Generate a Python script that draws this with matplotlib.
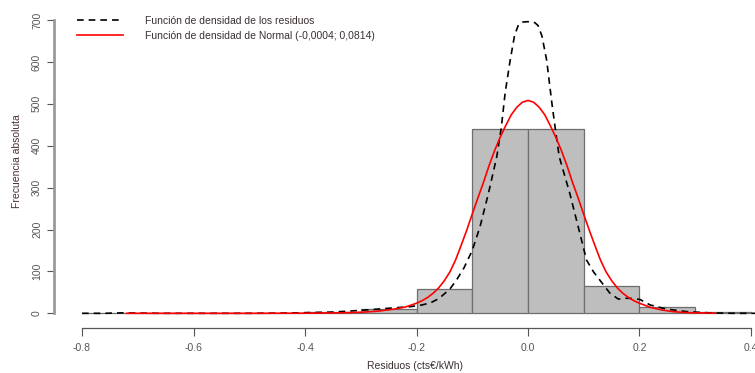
"""Histograma de residuos con densidad kernel y normal ajustada."""

import matplotlib
matplotlib.use("Agg")
import matplotlib.pyplot as plt

plt.rcParams['font.family'] = ['Liberation Sans', 'DejaVu Sans']

# histogram (bin edges every 0.1)
bin_edges = [-0.8, -0.7, -0.6, -0.5, -0.4, -0.3, -0.2, -0.1, 0.0, 0.1, 0.2, 0.3, 0.4]
counts = [1, 0, 0, 1, 2, 11, 57, 441, 441, 65, 14, 2]

# kernel density of the residuals (scaled to counts)
kde_x = [-0.80, -0.76, -0.73, -0.70, -0.66, -0.50, -0.44, -0.40, -0.35, -0.30,
         -0.27, -0.24, -0.21, -0.19, -0.175, -0.16, -0.14, -0.128, -0.115,
         -0.10, -0.086, -0.071, -0.056, -0.048, -0.041, -0.032, -0.024,
         -0.017, -0.010, -0.003, 0.005, 0.012, 0.018, 0.025, 0.0335, 0.043,
         0.049, 0.056, 0.075, 0.093, 0.105, 0.118, 0.129, 0.147, 0.162,
         0.177, 0.190, 0.201, 0.219, 0.231, 0.249, 0.285, 0.327, 0.37, 0.41]
kde_y = [0, 0, 1, 0.5, 0, 0, 0.5, 1.5, 3, 7,
         10, 13, 16, 20, 25, 35, 58, 80, 108,
         150, 207, 286, 374, 442, 526, 604, 664,
         689, 695, 696, 696, 694, 687, 662, 604, 500,
         440, 374, 286, 191, 127, 98, 79, 48, 34,
         36, 35, 33, 20, 16, 10, 4, 1, 0, 0]

# Normal(-0.0004; 0.0814) density scaled to counts
norm_x = [-0.72, -0.50, -0.40, -0.34, -0.30, -0.27, -0.24, -0.22, -0.20, -0.19,
          -0.18, -0.17, -0.16, -0.15, -0.14, -0.13, -0.12, -0.11, -0.10, -0.09,
          -0.08, -0.07, -0.06, -0.05, -0.04, -0.03, -0.02, -0.01, 0.00, 0.01,
          0.02, 0.03, 0.04, 0.05, 0.06, 0.07, 0.08, 0.09, 0.10, 0.11, 0.12,
          0.13, 0.14, 0.15, 0.16, 0.17, 0.18, 0.19, 0.20, 0.22, 0.24, 0.26,
          0.28, 0.30, 0.336]
norm_y = [0, 0, 0.3, 1, 2.5, 5, 10, 15, 24, 30,
          38, 48, 61, 78, 99, 127, 162, 198, 237, 275,
          312, 352, 388, 420, 448, 474, 492, 504, 508, 504,
          492, 474, 448, 420, 388, 352, 312, 275, 236, 198, 162,
          127, 99, 78, 61, 48, 38, 30, 24, 14, 8, 4,
          2, 1, 0.3]

legend_labels = ["Función de densidad de los residuos",
                 "Función de densidad de Normal (-0,0004; 0,0814)"]

W, H = 755, 373
fig = plt.figure(figsize=(W / 100, H / 100), dpi=100)
# axes box in pixels: x 60..755, y 10..318
ax = fig.add_axes([60 / W, 1 - 318 / H, (755 - 60) / W, (318 - 10) / H])

lefts = bin_edges[:-1]
widths = [b - a for a, b in zip(bin_edges[:-1], bin_edges[1:])]
ax.bar(lefts, counts, width=widths, align='edge', color='#bebebe',
       edgecolor='#6e6e6e', linewidth=0.9)

ax.plot(kde_x, kde_y, color='black', linestyle=(0, (4, 3)), linewidth=1.2,
        label=legend_labels[0])
ax.plot(norm_x, norm_y, color='red', linewidth=1.2, label=legend_labels[1])

ax.set_xlim(-0.8395, 0.4072)
ax.set_ylim(-11.2, 724)

for s in ('top', 'right'):
    ax.spines[s].set_visible(False)
ax.spines['left'].set_position(('outward', 4))
ax.spines['left'].set_bounds(0, 700)
ax.spines['left'].set_color('#9a9a9a')
ax.spines['left'].set_linewidth(2)
ax.spines['bottom'].set_position(('outward', 7))
ax.spines['bottom'].set_bounds(-0.8, 0.4)
ax.spines['bottom'].set_color('#555555')
ax.spines['bottom'].set_linewidth(0.9)

ax.set_xticks([-0.8, -0.6, -0.4, -0.2, 0.0, 0.2, 0.4])
ax.set_xticklabels(['-0.8', '-0.6', '-0.4', '-0.2', '0.0', '0.2', '0.4'])
ax.set_yticks(range(0, 701, 100))
ax.tick_params(axis='x', length=6, width=0.8, color='#555555',
               labelsize=7.5, labelcolor='#555555', pad=5)
ax.tick_params(axis='y', length=5, width=0.8, color='#555555',
               labelsize=7.5, labelcolor='#555555', pad=4)
for lab in ax.get_yticklabels():
    lab.set_rotation(90)
    lab.set_va('center')

fig.text(415 / W, 1 - 366 / H, "Residuos (cts€/kWh)", ha='center',
         va='center', fontsize=7.5, color='#3a3030')
fig.text(17 / W, 1 - 161 / H, "Frecuencia absoluta", ha='center',
         va='center', rotation=90, fontsize=7.5, color='#4a3030')

ax.legend(loc='upper left', bbox_to_anchor=(77 / W, 1 - 16 / H),
          bbox_transform=fig.transFigure, frameon=False, fontsize=7.5,
          handlelength=4.4, handletextpad=2.1, labelspacing=0.45,
          borderpad=0, borderaxespad=0, labelcolor='#3a3030')

fig.savefig("out.png", dpi=100)
